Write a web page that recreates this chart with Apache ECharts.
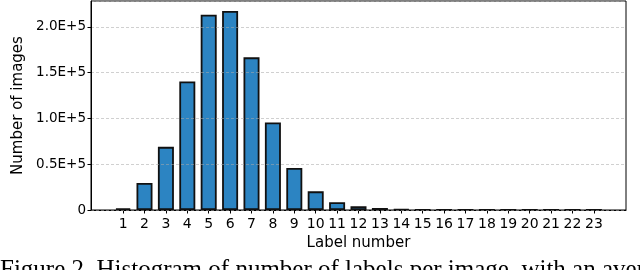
<!DOCTYPE html>
<html>
<head>
<meta charset="utf-8">
<script src="https://cdn.jsdelivr.net/npm/echarts@6/dist/echarts.min.js"></script>
<style>
html,body{margin:0;padding:0;background:#fff;}
#chart{width:640px;height:270px;}
</style>
</head>
<body>
<div id="chart"></div>
<script>
// Label number categories (positions 0 and 24 are empty padding slots)
const categories = ['', '1','2','3','4','5','6','7','8','9','10','11','12','13','14','15','16','17','18','19','20','21','22','23', ''];
// Number of images per label count
const counts = ['-', 1800, 29500, 69000, 140500, 213500, 217500, 166800, 95600, 46000, 20400, 8400, 4200, 2200, 900, 400, 200, 120, 80, 50, 30, 20, 15, 10, '-'];
const yTicks = [0, 50000, 100000, 150000, 200000];
const yMax = 228400;
const xName = 'Label number';
const yName = 'Number of images';
const caption = 'Figure 2. Histogram of number of labels per image, with an average';

const chart = echarts.init(document.getElementById('chart'), null, {renderer: 'canvas'});
const font = 'DejaVu Sans';
chart.setOption({
  animation: false,
  backgroundColor: '#fff',
  grid: {left: 91, right: 14, top: 1, bottom: 60, show: true, borderColor: '#000', borderWidth: 1, backgroundColor: 'transparent'},
  xAxis: {
    type: 'category',
    data: categories,
    boundaryGap: true,
    name: xName,
    nameLocation: 'middle',
    nameGap: 23,
    nameTextStyle: {fontFamily: font, fontSize: 15, color: '#000'},
    axisLine: {lineStyle: {color: '#000', width: 1}},
    axisTick: {show: true, alignWithLabel: true, length: 3.5, lineStyle: {color: '#000'},
      interval: (i) => i >= 1 && i <= 23},
    axisLabel: {fontFamily: font, fontSize: 14, color: '#000', margin: 7, interval: 0},
    splitLine: {show: false}
  },
  yAxis: {
    type: 'value',
    min: 0,
    max: yMax,
    interval: 50000,
    z: 5,
    name: yName,
    nameLocation: 'middle',
    nameGap: 61,
    nameRotate: 90,
    nameTextStyle: {fontFamily: font, fontSize: 15, color: '#000'},
    axisLine: {show: true, lineStyle: {color: '#000', width: 1}},
    axisTick: {show: true, length: 3.5, lineStyle: {color: '#000'}},
    axisLabel: {fontFamily: font, fontSize: 13.5, color: '#000', margin: 5, showMaxLabel: false,
      formatter: (v) => yTicks.indexOf(v) < 0 ? '' : (v === 0 ? '0' : (v / 1e5).toFixed(1) + 'E+5')},
    splitLine: {show: true, lineStyle: {color: 'rgba(170,170,170,0.55)', width: 1, type: [3, 2]}}
  },
  series: [{
    type: 'bar',
    data: counts,
    barWidth: 16,
    itemStyle: {color: '#2c84c2', borderColor: '#111', borderWidth: 1.8}
  }],
  graphic: [{
    type: 'text',
    left: 0,
    top: 258,
    style: {text: caption, fontFamily: 'Liberation Serif', fontSize: 25, fill: '#000'}
  }]
});
</script>
</body>
</html>
